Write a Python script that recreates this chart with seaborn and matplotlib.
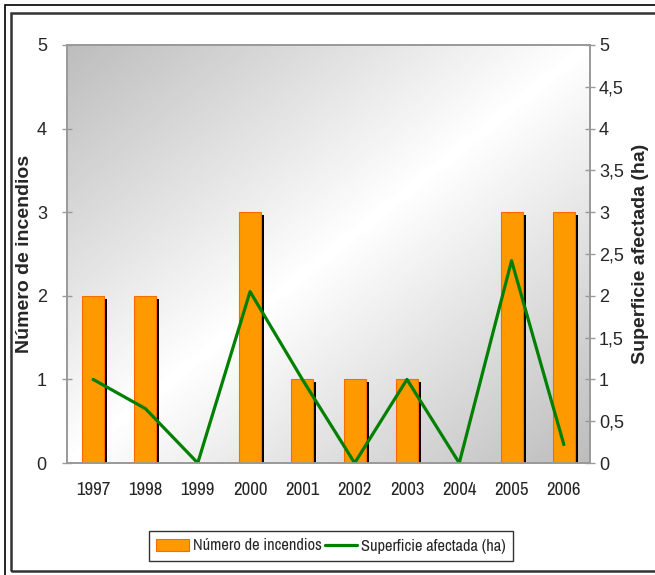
import numpy as np
import matplotlib
matplotlib.use('Agg')
import matplotlib.pyplot as plt
from matplotlib import font_manager
from matplotlib.patches import Rectangle
from matplotlib.lines import Line2D
from matplotlib.transforms import ScaledTranslation
import seaborn as sns

# datos
anios = ['1997', '1998', '1999', '2000', '2001', '2002', '2003', '2004', '2005', '2006']
num_incendios = [2, 2, 0, 3, 1, 1, 1, 0, 3, 3]
superficie = [1.0, 0.65, 0.0, 2.05, 1.0, 0.0, 1.0, 0.0, 2.42, 0.22]

sns.set_style('white')
plt.rcParams['font.family'] = ['Liberation Sans', 'DejaVu Sans']

# fuente estrecha para años y leyenda
estrecha = ['Archivo Narrow', 'Roboto Condensed', 'Liberation Sans', 'DejaVu Sans']

fig = plt.figure(figsize=(6.55, 5.75), dpi=100)
ax = fig.add_axes([67 / 655, 1 - 463 / 575, 523 / 655, 418 / 575])

# fondo degradado diagonal
xx, yy = np.meshgrid(np.linspace(0, 1, 300), np.linspace(1, 0, 300))
grad = np.abs(xx - yy)
ax.imshow(1 - 0.26 * grad, cmap='gray', vmin=0, vmax=1, extent=(0, 1, 0, 1),
          transform=ax.transAxes, aspect='auto', zorder=0, interpolation='bilinear')

# sombra negra de las barras
sns.barplot(x=anios, y=num_incendios, color='black', width=0.42, saturation=1,
            linewidth=0, ax=ax, zorder=2)
desplaza = ScaledTranslation(3 / 100, -3 / 100, fig.dpi_scale_trans)
for p in ax.patches:
    p.set_transform(ax.transData + desplaza)

sns.barplot(x=anios, y=num_incendios, color='#FF9900', width=0.42, saturation=1,
            edgecolor='#FF6A00', linewidth=0.8, ax=ax, zorder=3)

ax.set_xlim(-0.5, len(anios) - 0.5)
ax.set_ylim(0, 5)
ax.set_yticks(range(6))
ax.set_xticks(np.arange(len(anios)))
ax.set_xticklabels(anios, family=estrecha)
ax.set_xticks(np.arange(len(anios) + 1) - 0.5, minor=True)
ax.tick_params(axis='x', which='major', length=0, labelsize=13.5, pad=14)
ax.tick_params(axis='x', which='minor', length=7, direction='inout', color='#999999', width=1)
ax.tick_params(axis='y', length=7, direction='inout', color='#999999', width=1,
               labelsize=13, pad=11, left=True)
ax.set_xlabel('')
ax.set_ylabel('Número de incendios', fontsize=14, fontweight='bold', labelpad=3)

ax2 = ax.twinx()
sns.lineplot(x=np.arange(len(anios)), y=superficie, color='#008000', linewidth=2.3, ax=ax2)
ax2.set_ylim(0, 5)
ax2.set_yticks(np.arange(0, 5.01, 0.5))
ax2.set_yticklabels([('%g' % v).replace('.', ',') for v in np.arange(0, 5.01, 0.5)])
ax2.tick_params(axis='y', length=7, direction='inout', color='#999999', width=1,
                labelsize=13, pad=3, right=True)
ax2.set_ylabel('Superficie afectada (ha)', fontsize=14, fontweight='bold', labelpad=6)

for a in (ax, ax2):
    for s in a.spines.values():
        s.set_color('#999999')
        s.set_linewidth(1.2)

handles = [Rectangle((0, 0), 1, 1, facecolor='#FF9900', edgecolor='#FF6A00', linewidth=0.8),
           Line2D([], [], color='#008000', linewidth=2.3)]
leg = fig.legend(handles, ['Número de incendios', 'Superficie afectada (ha)'],
                 loc='center', bbox_to_anchor=(331 / 655, 1 - 546 / 575), ncol=2,
                 prop=font_manager.FontProperties(family=estrecha, size=11.8),
                 frameon=True, fancybox=False, edgecolor='black',
                 handlelength=2.0, handletextpad=0.2, columnspacing=0.2,
                 borderpad=0.45, borderaxespad=0)
leg.get_frame().set_linewidth(1.0)

# marcos exteriores
fig.add_artist(Rectangle((5 / 655, -0.1), 1.2, 1.1 - 5 / 575, transform=fig.transFigure,
                         fill=False, edgecolor='black', linewidth=1.2))
fig.add_artist(Rectangle((11 / 655, 4 / 575), 1.2, 1 - 17 / 575, transform=fig.transFigure,
                         fill=False, edgecolor='#333333', linewidth=1.8))

fig.savefig('out.png', dpi=100)
